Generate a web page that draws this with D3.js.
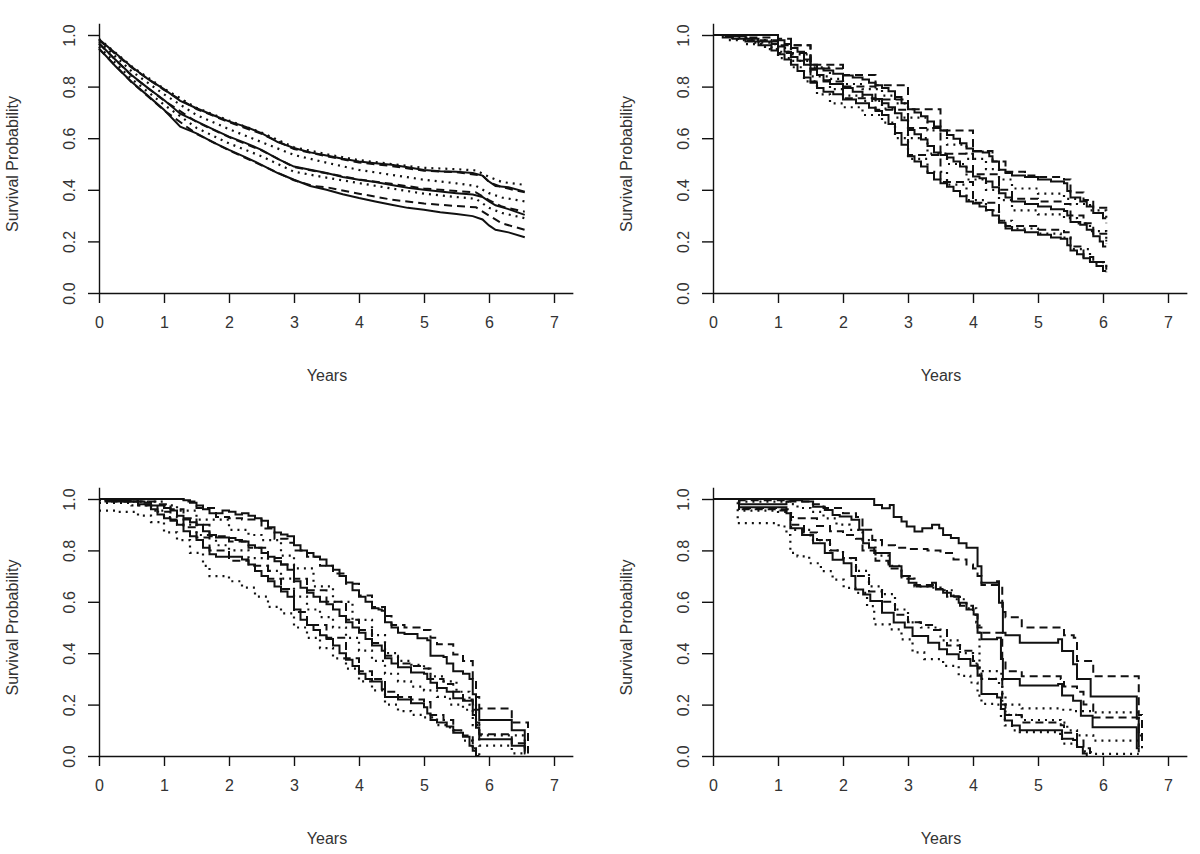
<!DOCTYPE html>
<html>
<head>
<meta charset="utf-8">
<script src="https://cdn.jsdelivr.net/npm/d3@7"></script>
<style>
  html, body { margin: 0; padding: 0; background: #fff; }
  svg { display: block; }
  text { font-family: "Liberation Sans", Arial, sans-serif; fill: #333; }
</style>
</head>
<body>
<svg id="chart" width="1200" height="854"></svg>
<script>
// ---------------- DATA ----------------
const xTicks = [0, 1, 2, 3, 4, 5, 6, 7];
const yTicks = [0, 0.2, 0.4, 0.6, 0.8, 1.0];
const yTickLabels = ["0.0", "0.2", "0.4", "0.6", "0.8", "1.0"];
const xTitle = "Years";
const yTitle = "Survival Probability";

// Panel 1 (top-left)
const p1SolidHi = [[0,0.983],[0.25,0.93],[0.5,0.877],[0.75,0.83],[1,0.79],[1.25,0.745],[1.5,0.716],[1.75,0.69],[2,0.665],[2.25,0.645],[2.5,0.62],[2.75,0.585],[3,0.562],[3.25,0.545],[3.5,0.533],[3.75,0.52],[4,0.51],[4.25,0.503],[4.5,0.497],[4.75,0.487],[5,0.477],[5.25,0.472],[5.5,0.47],[5.75,0.465],[5.9,0.455],[6,0.432],[6.1,0.415],[6.3,0.41],[6.55,0.393]];
const p1SolidMid = [[0,0.968],[0.25,0.905],[0.5,0.845],[0.75,0.795],[1,0.748],[1.25,0.695],[1.5,0.665],[1.75,0.635],[2,0.606],[2.25,0.582],[2.5,0.555],[2.75,0.52],[3,0.49],[3.25,0.478],[3.5,0.465],[3.75,0.45],[4,0.439],[4.25,0.43],[4.5,0.419],[4.75,0.408],[5,0.4],[5.25,0.393],[5.5,0.387],[5.75,0.382],[5.9,0.372],[6,0.355],[6.1,0.34],[6.3,0.325],[6.55,0.303]];
const p1SolidLo = [[0,0.948],[0.25,0.88],[0.5,0.819],[0.75,0.765],[1,0.71],[1.25,0.645],[1.5,0.619],[1.75,0.585],[2,0.555],[2.25,0.527],[2.5,0.497],[2.75,0.465],[3,0.439],[3.25,0.415],[3.5,0.4],[3.75,0.383],[4,0.368],[4.25,0.355],[4.5,0.342],[4.75,0.33],[5,0.323],[5.25,0.313],[5.5,0.306],[5.75,0.298],[5.9,0.285],[6,0.262],[6.1,0.245],[6.3,0.235],[6.55,0.216]];
const p1DashHi = [[0,0.98],[0.5,0.874],[1,0.787],[1.5,0.713],[2,0.662],[2.5,0.617],[3,0.558],[3.5,0.53],[4,0.506],[4.5,0.492],[5,0.474],[5.5,0.468],[5.9,0.455],[6,0.43],[6.2,0.41],[6.55,0.39]];
const p1DashMid = [[0,0.966],[0.5,0.843],[1,0.746],[1.5,0.663],[2,0.604],[2.5,0.553],[3,0.488],[3.5,0.464],[4,0.44],[4.5,0.423],[5,0.405],[5.5,0.395],[5.8,0.39],[6,0.36],[6.2,0.335],[6.55,0.315]];
const p1DashLo = [[0,0.946],[0.5,0.817],[1,0.708],[1.5,0.617],[2,0.553],[2.5,0.495],[3,0.437],[3.3,0.415],[3.5,0.41],[4,0.385],[4.5,0.362],[5,0.347],[5.5,0.337],[5.8,0.332],[6,0.3],[6.2,0.27],[6.55,0.245]];
const p1DotHi = [[0,0.985],[0.5,0.879],[1,0.792],[1.5,0.718],[2,0.668],[2.5,0.622],[3,0.565],[3.5,0.538],[4,0.515],[4.5,0.5],[5,0.485],[5.5,0.48],[5.8,0.475],[6,0.45],[6.2,0.43],[6.55,0.419]];
const p1DotMid = [[0,0.975],[0.5,0.86],[1,0.77],[1.5,0.69],[2,0.635],[2.5,0.585],[3,0.535],[3.5,0.505],[4,0.477],[4.5,0.458],[5,0.439],[5.5,0.425],[5.8,0.415],[6,0.387],[6.2,0.37],[6.55,0.355]];
const p1DotLo = [[0,0.955],[0.5,0.83],[1,0.73],[1.5,0.64],[2,0.58],[2.5,0.53],[3,0.47],[3.5,0.447],[4,0.426],[4.5,0.405],[5,0.385],[5.5,0.372],[5.8,0.365],[6,0.33],[6.2,0.31],[6.55,0.29]];

// Panel 2 (top-right)
const p2SolidHi = [[0,1],[0.95,1],[1.0,0.98],[1.1,0.965],[1.2,0.95],[1.3,0.935],[1.4,0.905],[1.5,0.885],[1.6,0.87],[1.7,0.862],[1.85,0.85],[2.0,0.843],[2.15,0.835],[2.3,0.828],[2.4,0.815],[2.5,0.805],[2.6,0.795],[2.7,0.782],[2.8,0.76],[2.9,0.735],[3.0,0.712],[3.1,0.7],[3.2,0.685],[3.3,0.665],[3.4,0.645],[3.5,0.63],[3.6,0.612],[3.7,0.598],[3.8,0.58],[3.9,0.56],[4.0,0.548],[4.15,0.545],[4.25,0.53],[4.3,0.51],[4.4,0.478],[4.5,0.465],[4.6,0.455],[4.8,0.45],[5.0,0.44],[5.2,0.432],[5.4,0.425],[5.45,0.395],[5.5,0.37],[5.65,0.355],[5.75,0.335],[5.85,0.31],[6.0,0.29],[6.05,0.29]];
const p2SolidMid = [[0,1],[0.2,0.995],[0.5,0.985],[0.7,0.975],[0.9,0.965],[1.0,0.955],[1.1,0.935],[1.2,0.915],[1.3,0.9],[1.4,0.885],[1.5,0.865],[1.6,0.845],[1.7,0.825],[1.8,0.81],[2.0,0.795],[2.15,0.78],[2.3,0.768],[2.45,0.752],[2.6,0.735],[2.7,0.72],[2.8,0.697],[2.9,0.67],[3.0,0.632],[3.1,0.615],[3.2,0.595],[3.3,0.57],[3.4,0.545],[3.5,0.535],[3.6,0.525],[3.7,0.51],[3.8,0.49],[3.9,0.47],[4.0,0.452],[4.1,0.445],[4.2,0.432],[4.3,0.41],[4.4,0.387],[4.5,0.37],[4.6,0.355],[4.8,0.345],[5.0,0.335],[5.2,0.325],[5.4,0.318],[5.45,0.3],[5.5,0.275],[5.65,0.265],[5.75,0.245],[5.85,0.22],[5.95,0.2],[6.0,0.18],[6.05,0.18]];
const p2SolidLo = [[0,1],[0.15,0.99],[0.3,0.985],[0.5,0.975],[0.7,0.96],[0.9,0.94],[1.0,0.925],[1.1,0.905],[1.2,0.885],[1.3,0.86],[1.4,0.835],[1.5,0.815],[1.6,0.795],[1.7,0.78],[1.85,0.77],[2.0,0.75],[2.2,0.735],[2.4,0.718],[2.5,0.705],[2.6,0.69],[2.7,0.655],[2.8,0.62],[2.9,0.575],[3.0,0.53],[3.1,0.51],[3.2,0.49],[3.3,0.465],[3.4,0.44],[3.5,0.425],[3.6,0.412],[3.7,0.395],[3.8,0.375],[3.9,0.355],[4.0,0.347],[4.1,0.335],[4.2,0.322],[4.3,0.3],[4.4,0.272],[4.5,0.25],[4.6,0.243],[4.8,0.235],[5.0,0.226],[5.2,0.215],[5.35,0.21],[5.45,0.185],[5.5,0.165],[5.6,0.15],[5.7,0.135],[5.8,0.12],[5.9,0.105],[6.0,0.085],[6.05,0.085]];
const p2DashHi = [[0,1],[0.95,1],[1.0,0.985],[1.2,0.96],[1.5,0.885],[2.0,0.845],[2.5,0.805],[3.0,0.712],[3.5,0.63],[4.0,0.55],[4.3,0.51],[4.5,0.47],[4.8,0.455],[5.0,0.45],[5.4,0.44],[5.5,0.39],[5.7,0.36],[5.85,0.33],[6.05,0.31]];
const p2DashMid = [[0,1],[0.5,0.99],[0.9,0.975],[1.0,0.96],[1.5,0.87],[2.0,0.8],[2.5,0.75],[3.0,0.64],[3.5,0.54],[4.0,0.46],[4.4,0.4],[4.6,0.365],[5.0,0.355],[5.4,0.345],[5.5,0.3],[5.7,0.27],[5.85,0.23],[6.05,0.2]];
const p2DashLo = [[0,1],[0.5,0.98],[1.0,0.93],[1.5,0.82],[2.0,0.755],[2.5,0.71],[3.0,0.535],[3.5,0.43],[4.0,0.35],[4.4,0.28],[4.5,0.26],[5.0,0.245],[5.4,0.235],[5.5,0.18],[5.7,0.14],[5.85,0.12],[6.05,0.09]];
const p2DotHi = [[0,1],[0.3,0.99],[0.6,0.98],[0.9,0.965],[1.0,0.95],[1.2,0.925],[1.5,0.875],[1.8,0.83],[2.0,0.81],[2.3,0.79],[2.6,0.765],[2.8,0.735],[3.0,0.68],[3.3,0.63],[3.6,0.575],[3.9,0.52],[4.2,0.48],[4.4,0.44],[4.6,0.405],[5.0,0.385],[5.4,0.365],[5.6,0.345],[5.8,0.32],[6.05,0.27]];
const p2DotMid = [[0,1],[0.3,0.985],[0.6,0.97],[0.9,0.95],[1.0,0.935],[1.2,0.9],[1.5,0.84],[1.8,0.79],[2.0,0.765],[2.3,0.745],[2.6,0.715],[2.8,0.68],[3.0,0.6],[3.3,0.54],[3.6,0.5],[3.9,0.44],[4.2,0.4],[4.4,0.36],[4.6,0.32],[5.0,0.305],[5.4,0.29],[5.6,0.27],[5.8,0.24],[6.05,0.19]];
const p2DotLo = [[0,1],[0.2,0.98],[0.5,0.965],[0.8,0.945],[1.0,0.91],[1.2,0.875],[1.4,0.82],[1.6,0.77],[1.8,0.735],[2.0,0.72],[2.3,0.69],[2.6,0.66],[2.8,0.6],[3.0,0.52],[3.3,0.47],[3.6,0.42],[3.9,0.36],[4.2,0.32],[4.4,0.28],[4.6,0.25],[5.0,0.23],[5.35,0.215],[5.5,0.17],[5.8,0.12],[6.05,0.08]];

// Panel 3 (bottom-left)
const p3SolidHi = [[0,1],[1.2,1],[1.3,0.995],[1.4,0.985],[1.5,0.975],[1.6,0.96],[1.7,0.945],[1.8,0.945],[1.9,0.955],[2.0,0.95],[2.1,0.94],[2.2,0.945],[2.3,0.935],[2.4,0.925],[2.5,0.915],[2.6,0.89],[2.7,0.87],[2.8,0.862],[2.9,0.855],[3.0,0.82],[3.1,0.8],[3.2,0.79],[3.3,0.775],[3.4,0.765],[3.5,0.74],[3.6,0.725],[3.7,0.7],[3.8,0.675],[3.9,0.645],[4.0,0.62],[4.1,0.6],[4.2,0.575],[4.3,0.57],[4.35,0.565],[4.4,0.52],[4.5,0.5],[4.6,0.48],[4.7,0.475],[4.9,0.458],[5.05,0.45],[5.1,0.39],[5.3,0.385],[5.35,0.36],[5.45,0.33],[5.6,0.32],[5.7,0.3],[5.75,0.24],[5.8,0.18],[5.85,0.14],[6.35,0.1],[6.55,0.02],[6.56,0.02]];
const p3SolidMid = [[0,1],[0.1,0.995],[0.4,0.99],[0.7,0.985],[0.8,0.975],[1.0,0.965],[1.1,0.955],[1.2,0.935],[1.3,0.92],[1.4,0.91],[1.5,0.9],[1.6,0.875],[1.7,0.86],[1.8,0.85],[2.0,0.848],[2.1,0.84],[2.2,0.835],[2.3,0.82],[2.4,0.81],[2.5,0.79],[2.6,0.775],[2.7,0.758],[2.8,0.745],[2.9,0.725],[3.0,0.68],[3.1,0.655],[3.2,0.635],[3.3,0.62],[3.4,0.6],[3.5,0.59],[3.6,0.57],[3.7,0.545],[3.8,0.52],[3.9,0.5],[4.0,0.48],[4.1,0.455],[4.2,0.43],[4.35,0.41],[4.4,0.38],[4.5,0.36],[4.6,0.345],[4.8,0.325],[5.0,0.32],[5.05,0.3],[5.1,0.285],[5.2,0.265],[5.35,0.25],[5.45,0.225],[5.6,0.215],[5.75,0.16],[5.8,0.11],[5.85,0.065],[6.35,0.04],[6.55,0.01],[6.56,0.01]];
const p3SolidLo = [[0,1],[0.1,0.99],[0.4,0.99],[0.6,0.98],[0.8,0.96],[0.9,0.94],[1.0,0.925],[1.1,0.915],[1.2,0.9],[1.3,0.875],[1.4,0.855],[1.5,0.84],[1.6,0.81],[1.7,0.785],[1.8,0.775],[2.0,0.775],[2.2,0.765],[2.3,0.745],[2.4,0.72],[2.5,0.7],[2.6,0.68],[2.7,0.66],[2.8,0.64],[2.9,0.62],[3.0,0.57],[3.1,0.53],[3.2,0.51],[3.3,0.49],[3.4,0.47],[3.5,0.455],[3.6,0.43],[3.7,0.4],[3.8,0.375],[3.9,0.35],[4.0,0.32],[4.1,0.3],[4.2,0.29],[4.35,0.26],[4.4,0.23],[4.6,0.22],[4.8,0.205],[5.0,0.19],[5.05,0.165],[5.1,0.14],[5.2,0.13],[5.35,0.115],[5.45,0.09],[5.6,0.075],[5.7,0.04],[5.75,0.02],[5.8,0.0],[5.85,0.0]];
const p3DashHi = [[0,1],[1.2,1],[1.3,0.99],[1.5,0.965],[1.8,0.93],[2.0,0.925],[2.2,0.92],[2.5,0.885],[2.7,0.845],[2.9,0.83],[3.0,0.8],[3.2,0.775],[3.4,0.74],[3.6,0.71],[3.8,0.67],[4.0,0.625],[4.2,0.58],[4.4,0.545],[4.5,0.51],[4.7,0.5],[5.0,0.49],[5.1,0.46],[5.2,0.435],[5.45,0.395],[5.6,0.37],[5.75,0.3],[5.8,0.23],[5.85,0.185],[6.35,0.13],[6.6,0.05],[6.61,0.05]];
const p3DashMid = [[0,1],[0.2,0.995],[0.6,0.99],[0.9,0.98],[1.1,0.96],[1.3,0.925],[1.5,0.9],[1.7,0.855],[2.0,0.835],[2.3,0.81],[2.6,0.77],[2.8,0.745],[3.0,0.69],[3.2,0.645],[3.5,0.6],[3.8,0.53],[4.0,0.49],[4.2,0.44],[4.4,0.39],[4.6,0.36],[4.8,0.35],[5.0,0.34],[5.1,0.3],[5.3,0.28],[5.45,0.25],[5.6,0.22],[5.75,0.18],[5.8,0.13],[5.85,0.085],[6.35,0.05],[6.6,0.01]];
const p3DashLo = [[0,1],[0.2,0.99],[0.6,0.975],[0.9,0.95],[1.1,0.92],[1.3,0.89],[1.5,0.85],[1.7,0.8],[2.0,0.76],[2.3,0.74],[2.6,0.69],[2.8,0.65],[3.0,0.56],[3.2,0.51],[3.5,0.46],[3.8,0.38],[4.0,0.33],[4.2,0.3],[4.4,0.25],[4.6,0.23],[4.8,0.22],[5.0,0.21],[5.1,0.16],[5.3,0.14],[5.45,0.1],[5.6,0.08],[5.75,0.03],[5.8,0.0]];
const p3DotHi = [[0,0.995],[0.5,0.99],[1.0,0.975],[1.2,0.955],[1.5,0.92],[2.0,0.88],[2.3,0.86],[2.5,0.84],[2.8,0.78],[3.0,0.73],[3.3,0.66],[3.6,0.6],[3.9,0.53],[4.2,0.47],[4.4,0.4],[4.6,0.37],[4.8,0.355],[5.0,0.34],[5.1,0.31],[5.3,0.29],[5.5,0.25],[5.7,0.2],[5.8,0.12],[5.85,0.08],[6.35,0.08],[6.55,0.03]];
const p3DotMid = [[0,0.985],[0.5,0.975],[0.8,0.955],[1.0,0.93],[1.2,0.9],[1.5,0.86],[1.8,0.82],[2.0,0.8],[2.3,0.77],[2.6,0.72],[2.8,0.69],[3.0,0.62],[3.2,0.57],[3.4,0.54],[3.6,0.5],[3.8,0.46],[4.0,0.41],[4.2,0.37],[4.4,0.32],[4.6,0.29],[4.8,0.27],[5.0,0.255],[5.2,0.23],[5.4,0.2],[5.6,0.18],[5.75,0.12],[5.85,0.04],[6.3,0.04],[6.35,0.01],[6.55,0.01]];
const p3DotLo = [[0,0.955],[0.3,0.95],[0.6,0.935],[0.8,0.91],[1.0,0.87],[1.2,0.84],[1.4,0.79],[1.6,0.74],[1.7,0.7],[2.0,0.68],[2.2,0.655],[2.4,0.62],[2.6,0.58],[2.8,0.555],[3.0,0.5],[3.2,0.46],[3.4,0.42],[3.6,0.38],[3.8,0.34],[4.0,0.29],[4.2,0.255],[4.4,0.2],[4.6,0.175],[4.8,0.16],[5.0,0.15],[5.2,0.12],[5.4,0.1],[5.6,0.06],[5.75,0.02],[5.85,0.0]];

// Panel 4 (bottom-right)
const p4SolidHi = [[0,1],[2.42,1],[2.48,0.977],[2.6,0.964],[2.72,0.977],[2.78,0.93],[2.9,0.912],[2.98,0.893],[3.1,0.874],[3.22,0.886],[3.37,0.9],[3.48,0.886],[3.54,0.86],[3.66,0.848],[3.78,0.828],[3.9,0.81],[4.01,0.81],[4.07,0.738],[4.13,0.674],[4.37,0.68],[4.4,0.596],[4.46,0.48],[4.5,0.47],[4.72,0.441],[5.31,0.454],[5.37,0.409],[5.54,0.357],[5.6,0.3],[5.78,0.3],[5.81,0.232],[6.49,0.232],[6.52,0.145],[6.55,0.04]];
const p4SolidMid = [[0,1],[0.4,0.98],[1.01,0.98],[1.13,0.99],[1.19,0.995],[1.37,0.99],[1.54,0.97],[1.72,0.957],[1.84,0.938],[1.95,0.932],[2.13,0.919],[2.25,0.88],[2.31,0.828],[2.4,0.81],[2.48,0.79],[2.66,0.79],[2.72,0.738],[2.9,0.7],[3.01,0.674],[3.13,0.66],[3.37,0.674],[3.43,0.648],[3.54,0.635],[3.66,0.622],[3.78,0.596],[3.9,0.57],[4.01,0.551],[4.07,0.48],[4.13,0.454],[4.37,0.46],[4.43,0.377],[4.46,0.3],[4.72,0.274],[5.31,0.28],[5.37,0.235],[5.54,0.215],[5.66,0.157],[5.84,0.112],[6.49,0.112],[6.52,0.03],[6.55,0.015]];
const p4SolidLo = [[0,1],[0.4,0.968],[1.01,0.968],[1.13,0.945],[1.19,0.886],[1.37,0.86],[1.54,0.828],[1.72,0.79],[1.84,0.764],[2.01,0.75],[2.13,0.7],[2.19,0.648],[2.31,0.628],[2.42,0.603],[2.6,0.557],[2.78,0.519],[2.95,0.5],[3.07,0.467],[3.31,0.441],[3.48,0.415],[3.6,0.396],[3.78,0.377],[3.96,0.351],[4.07,0.312],[4.13,0.241],[4.37,0.228],[4.43,0.183],[4.49,0.138],[4.6,0.119],[4.72,0.1],[5.31,0.1],[5.37,0.067],[5.54,0.062],[5.6,0.035],[5.69,0.01],[5.75,0]];
const p4DashHi = [[0,1],[0.4,0.995],[1.2,0.99],[1.5,0.98],[1.7,0.965],[2.0,0.945],[2.2,0.93],[2.3,0.88],[2.45,0.84],[2.6,0.82],[2.8,0.81],[3.0,0.805],[3.3,0.8],[3.5,0.79],[3.7,0.765],[3.9,0.745],[4.0,0.73],[4.07,0.7],[4.13,0.665],[4.4,0.66],[4.45,0.56],[4.5,0.54],[4.75,0.5],[5.35,0.5],[5.4,0.47],[5.55,0.46],[5.6,0.37],[5.85,0.31],[6.5,0.31],[6.55,0.16],[6.6,0.04]];
const p4DashMid = [[0,1],[0.4,0.965],[1.0,0.96],[1.2,0.93],[1.3,0.925],[1.6,0.895],[1.8,0.875],[2.0,0.86],[2.2,0.845],[2.3,0.8],[2.5,0.76],[2.7,0.73],[2.9,0.69],[3.1,0.665],[3.4,0.65],[3.6,0.62],[3.8,0.585],[4.0,0.55],[4.07,0.5],[4.13,0.48],[4.4,0.48],[4.45,0.37],[4.5,0.33],[4.75,0.31],[5.35,0.3],[5.4,0.27],[5.6,0.25],[5.7,0.2],[5.85,0.15],[6.5,0.15],[6.55,0.08],[6.6,0.03]];
const p4DashLo = [[0,1],[0.4,0.96],[1.0,0.955],[1.2,0.9],[1.4,0.87],[1.6,0.84],[1.8,0.8],[2.0,0.77],[2.2,0.7],[2.4,0.64],[2.6,0.6],[2.8,0.55],[3.0,0.52],[3.2,0.51],[3.4,0.49],[3.6,0.43],[3.8,0.41],[4.0,0.37],[4.07,0.34],[4.13,0.3],[4.4,0.3],[4.45,0.2],[4.5,0.16],[4.75,0.13],[5.35,0.12],[5.4,0.09],[5.6,0.06],[5.7,0.03],[5.8,0.0]];
const p4DotHi = [[0,1],[0.4,0.99],[1.2,0.98],[1.3,0.965],[1.5,0.95],[1.7,0.925],[1.9,0.9],[2.1,0.88],[2.3,0.84],[2.5,0.78],[2.7,0.74],[2.9,0.7],[3.1,0.66],[3.3,0.655],[3.5,0.645],[3.7,0.61],[3.9,0.575],[4.05,0.52],[4.1,0.33],[4.4,0.32],[4.45,0.24],[4.5,0.2],[4.75,0.185],[5.35,0.18],[5.5,0.175],[5.85,0.17],[6.5,0.17],[6.55,0.07]];
const p4DotMid = [[0,1],[0.4,0.955],[1.0,0.95],[1.2,0.88],[1.5,0.84],[1.8,0.8],[2.0,0.77],[2.2,0.72],[2.4,0.66],[2.6,0.63],[2.8,0.57],[3.0,0.52],[3.2,0.5],[3.5,0.45],[3.8,0.4],[4.0,0.36],[4.1,0.3],[4.4,0.28],[4.45,0.2],[4.5,0.16],[4.75,0.14],[5.35,0.13],[5.45,0.1],[5.6,0.08],[5.85,0.06],[6.5,0.06],[6.55,0.02]];
const p4DotLo = [[0,1],[0.38,0.906],[1.01,0.893],[1.13,0.86],[1.19,0.79],[1.3,0.777],[1.48,0.75],[1.66,0.719],[1.84,0.686],[2.01,0.654],[2.19,0.635],[2.37,0.583],[2.48,0.512],[2.72,0.493],[2.9,0.454],[3.07,0.403],[3.25,0.377],[3.43,0.377],[3.54,0.351],[3.78,0.312],[3.96,0.286],[4.07,0.235],[4.13,0.203],[4.37,0.2],[4.43,0.145],[4.49,0.119],[4.6,0.1],[4.72,0.093],[5.31,0.086],[5.37,0.048],[5.6,0.035],[5.72,0.015],[5.84,0.008],[6.55,0.008]];

// ---------------- LAYOUT ----------------
const W = 1200, H = 854;
const xMax = 7.29, yMax = 1.046;
const pxPerYear = 65;
const panels = [
  { left: 99,  y0: 293, y1: 35,  curve: d3.curveLinear,
    solid: [p1SolidHi, p1SolidMid, p1SolidLo], dashed: [p1DashHi, p1DashMid, p1DashLo], dotted: [p1DotHi, p1DotMid, p1DotLo] },
  { left: 713, y0: 293, y1: 35,  curve: d3.curveStepAfter,
    solid: [p2SolidHi, p2SolidMid, p2SolidLo], dashed: [p2DashHi, p2DashMid, p2DashLo], dotted: [p2DotHi, p2DotMid, p2DotLo] },
  { left: 99,  y0: 756, y1: 499, curve: d3.curveStepAfter,
    solid: [p3SolidHi, p3SolidMid, p3SolidLo], dashed: [p3DashHi, p3DashMid, p3DashLo], dotted: [p3DotHi, p3DotMid, p3DotLo] },
  { left: 713, y0: 756, y1: 499, curve: d3.curveStepAfter,
    solid: [p4SolidHi, p4SolidMid, p4SolidLo], dashed: [p4DashHi, p4DashMid, p4DashLo], dotted: [p4DotHi, p4DotMid, p4DotLo] }
];

const svg = d3.select("#chart");
svg.append("rect").attr("width", W).attr("height", H).attr("fill", "#fff");

const styles = {
  solid:  { width: 2.0, dash: null },
  dashed: { width: 2.0, dash: "8,5" },
  dotted: { width: 2.2, dash: "2,5" }
};

panels.forEach(p => {
  const x = d3.scaleLinear().domain([0, xMax]).range([p.left, p.left + xMax * pxPerYear]);
  const y = d3.scaleLinear().domain([0, 1]).range([p.y0, p.y1]);
  const g = svg.append("g");

  // curves
  const line = d3.line().x(d => x(d[0])).y(d => y(d[1])).curve(p.curve);
  ["dotted", "dashed", "solid"].forEach(kind => {
    p[kind].forEach(series => {
      g.append("path")
        .datum(series)
        .attr("d", line)
        .attr("fill", "none")
        .attr("stroke", "#111")
        .attr("stroke-width", styles[kind].width)
        .attr("stroke-dasharray", styles[kind].dash)
        .attr("stroke-linejoin", "miter")
        .attr("stroke-linecap", "butt");
    });
  });

  // x axis
  const xAxis = d3.axisBottom(x).tickValues(xTicks).tickFormat(d3.format("d")).tickSize(10).tickSizeOuter(0);
  const gx = g.append("g").attr("transform", `translate(0,${p.y0})`).call(xAxis);
  gx.select(".domain").attr("stroke", "#111").attr("stroke-width", 1.4);
  gx.selectAll(".tick line").attr("stroke", "#111").attr("stroke-width", 1.4);
  gx.selectAll(".tick text").attr("y", 35).attr("dy", 0)
    .style("font-size", "16px").style("font-family", '"Liberation Sans", Arial, sans-serif').attr("fill", "#333");

  // y axis
  const yAxisScale = d3.scaleLinear().domain([0, yMax]).range([p.y0, y(yMax)]);
  const yAxis = d3.axisLeft(yAxisScale).tickValues(yTicks).tickFormat((d, i) => yTickLabels[i]).tickSize(11).tickSizeOuter(0);
  const gy = g.append("g").attr("transform", `translate(${x(0)},0)`).call(yAxis);
  gy.select(".domain").attr("stroke", "#111").attr("stroke-width", 1.4);
  gy.selectAll(".tick line").attr("stroke", "#111").attr("stroke-width", 1.4);
  gy.selectAll(".tick text")
    .attr("transform", "rotate(-90)")
    .attr("x", 0).attr("y", -24).attr("dy", 0)
    .attr("text-anchor", "middle")
    .style("font-size", "16px").style("font-family", '"Liberation Sans", Arial, sans-serif').attr("fill", "#333");

  // titles
  g.append("text")
    .attr("x", p.left + 228).attr("y", p.y0 + 88)
    .attr("text-anchor", "middle")
    .style("font-size", "16px")
    .text(xTitle);
  const cy = y(0.5);
  g.append("text")
    .attr("transform", `translate(${p.left - 81},${cy}) rotate(-90)`)
    .attr("text-anchor", "middle")
    .style("font-size", "16px")
    .text(yTitle);
});
</script>
</body>
</html>
